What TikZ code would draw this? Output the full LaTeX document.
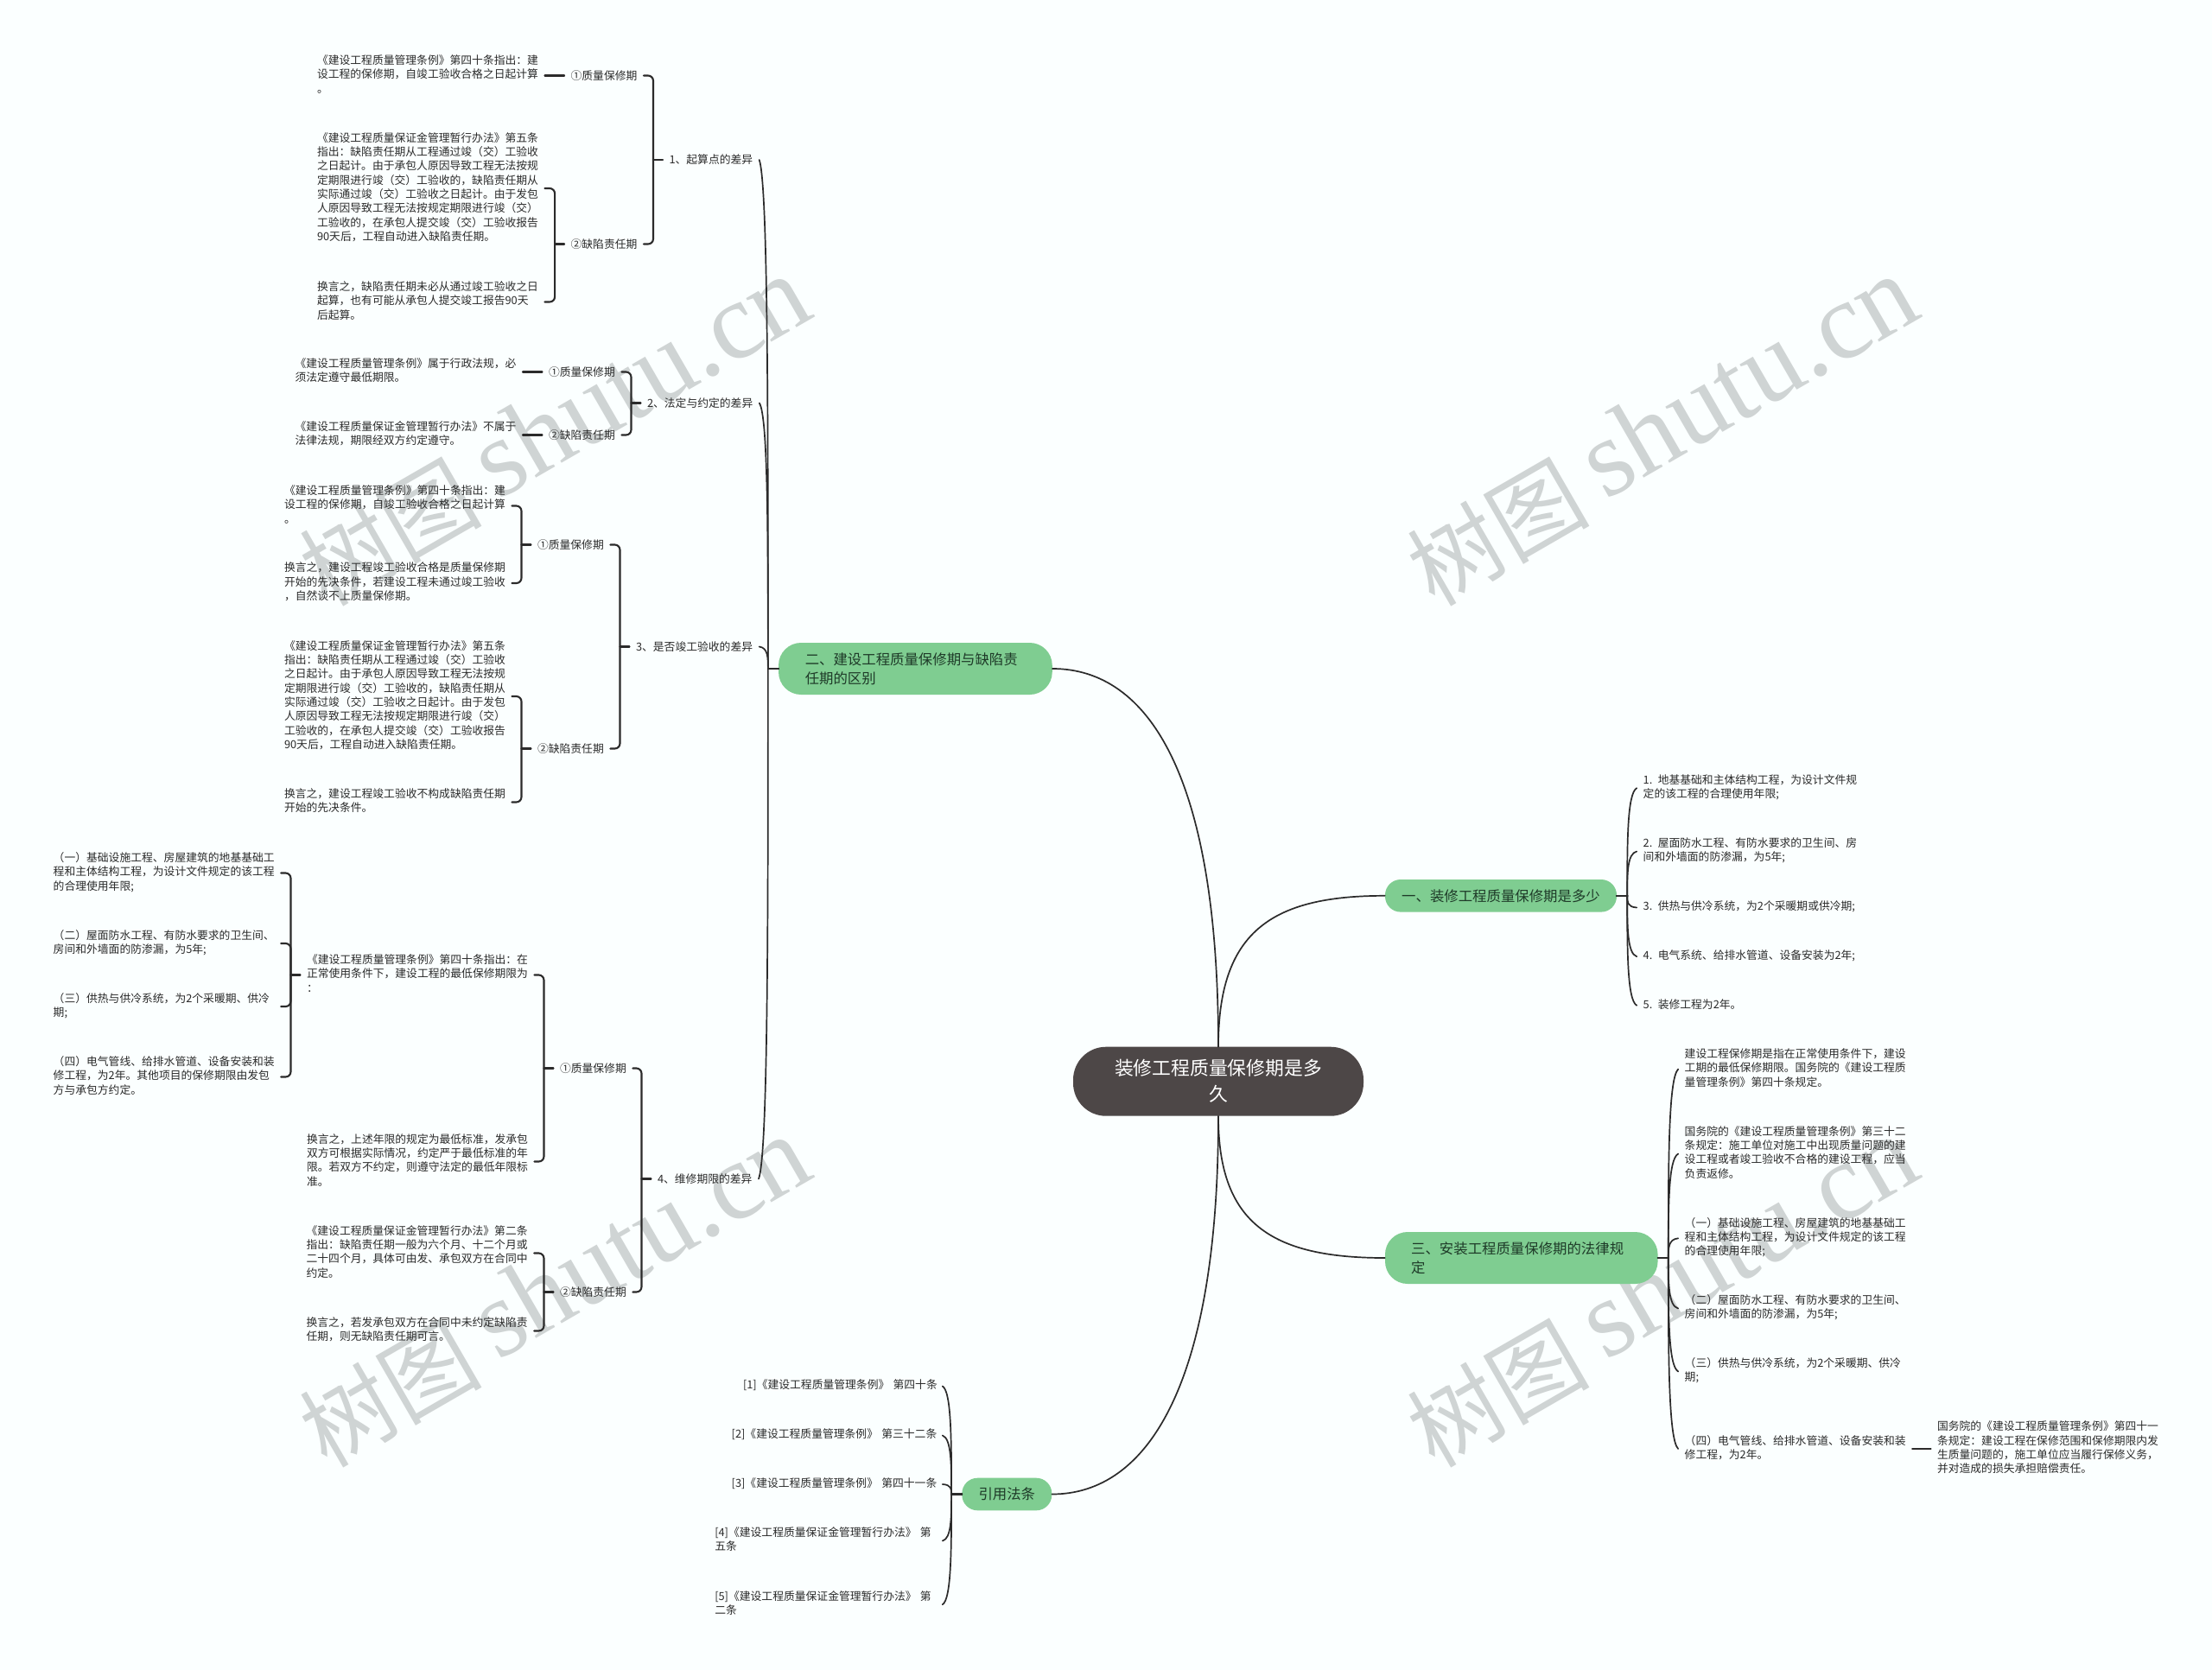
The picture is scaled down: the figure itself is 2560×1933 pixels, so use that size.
\documentclass[tikz,border=0pt]{standalone}
\usepackage{fontspec}
\setmainfont{Noto Sans CJK SC}
\newfontfamily\wmlatin{Liberation Serif}
\usetikzlibrary{calc}
\definecolor{bgc}{HTML}{FBFFFF}
\definecolor{ink}{HTML}{2A2A2A}
\definecolor{wire}{HTML}{2B2B2B}
\definecolor{leaf}{HTML}{7FCD91}
\definecolor{leafink}{HTML}{1E3A28}
\definecolor{rootfill}{HTML}{4D4747}
\definecolor{wm}{HTML}{CFD4D4}
\tikzset{
 wire/.style={draw=wire,line width=1.7pt,line cap=round},
 stub/.style={draw=wire,line width=2.1pt,line cap=round},
 brk/.style={stub,rounded corners=6pt},
 blk/.style={anchor=west,xshift=-7.5pt,inner sep=0pt,outer xsep=7.5pt,outer ysep=0pt,text width=256pt,align=left,text=ink,
   font=\fontsize{12.8}{16.3}\selectfont,execute at begin node=\strut,execute at end node=\strut},
 lab/.style={anchor=west,xshift=-7.5pt,inner sep=0pt,outer xsep=7.5pt,outer ysep=0pt,text=ink,
   font=\fontsize{12.8}{16.3}\selectfont},
 topic/.style={fill=leaf,inner xsep=0pt,inner ysep=0pt,align=left,text=leafink,font=\fontsize{16.4}{21.6}\selectfont},
 wmark/.style={rotate=30,text=wm,inner sep=0pt},
}
\newcommand{\wmtext}{\raisebox{-9pt}{\fontsize{106}{110}\selectfont 树图}\hspace{22pt}{\wmlatin\fontsize{127}{127}\selectfont shutu.cn}}
% bracket from parent to the outer children
\newcommand{\bkt}[3]{%
 \coordinate (bj) at ($(#1.west)+(-11,0)$);
 \draw[brk] (#2.east) -| (bj) |- (#3.east);
 \draw[stub] (#1.west) -- (bj);}
\newcommand{\bktin}[2]{%
 \coordinate (bj) at ($(#1.west)+(-11,0)$);
 \draw[brk] (#2.east) -| (bj);}
% hooked curve from a parent's spine to a child
\newcommand{\hookln}[3]{%
 \path (#1) ++(#2,0) coordinate (sp);
 \draw[stub] (#1) -- (sp);
 \draw[wire] (sp) .. controls ($(sp)!.5!(sp|-#3)$) and ($(sp)!.95!(sp|-#3)$) .. (#3);}
\begin{document}
\begin{tikzpicture}[x=1pt,y=-1pt]
\useasboundingbox (0,0) rectangle (2560,1933);
\fill[bgc] (0,0) rectangle (2560,1933);
% watermarks
\node[wmark] (wm1) at (642,500.4) {\wmtext};
\node[wmark] (wm2) at (1924,500.4) {\wmtext};
\node[wmark] (wm3) at (642,1496.4) {\wmtext};
\node[wmark] (wm4) at (1924,1496.4) {\wmtext};
% central + topics
\node[fill=rootfill,rounded corners=38pt,minimum width=336pt,minimum height=80pt,inner sep=0pt,align=center,text=white,font=\fontsize{21.8}{30}\selectfont] (root) at (1410,1251.7) {装修工程质量保修期是多\\久};
\node[topic,rounded corners=18pt,minimum width=268pt,minimum height=37.6pt,align=center] (one) at (1737,1036.8) {一、装修工程质量保修期是多少};
\node[topic,rounded corners=26pt,minimum width=316.7pt,minimum height=60pt,text width=255.3pt] (two) at (1059.4,774) {二、建设工程质量保修期与缺陷责\\任期的区别};
\node[topic,rounded corners=26pt,minimum width=315.6pt,minimum height=60pt,text width=255.3pt] (three) at (1760.8,1456) {三、安装工程质量保修期的法律规\\定};
\node[topic,rounded corners=18pt,minimum width=104pt,minimum height=37.6pt,align=center] (ref) at (1165.3,1729.5) {引用法条};
\draw[wire] (root.north) .. controls +(0,-132) and +(-133,0) .. (one.west);
\draw[wire] (root.south) .. controls +(0,123) and +(-133,0) .. (three.west);
\draw[wire] (root.north) .. controls +(0,-312) and +(112,0) .. (two.east);
\draw[wire] (root.south) .. controls +(0,308) and +(112,0) .. (ref.east);
% ---- group 1
\node[lab] (l1) at (774.5,185) {1、起算点的差异};
\node[lab] (l1a) at (660.6,87.5) {①质量保修期};
\node[lab] (l1b) at (660.6,282.5) {②缺陷责任期};
\node[blk] (a1) at (367,87.5) {《建设工程质量管理条例》第四十条指出：建\\设工程的保修期，自竣工验收合格之日起计算\\。};
\node[blk] (a2) at (367,218) {《建设工程质量保证金管理暂行办法》第五条\\指出：缺陷责任期从工程通过竣（交）工验收\\之日起计。由于承包人原因导致工程无法按规\\定期限进行竣（交）工验收的，缺陷责任期从\\实际通过竣（交）工验收之日起计。由于发包\\人原因导致工程无法按规定期限进行竣（交）\\工验收的，在承包人提交竣（交）工验收报告\\90天后，工程自动进入缺陷责任期。};
\node[blk] (a3) at (367,349.5) {换言之，缺陷责任期未必从通过竣工验收之日\\起算，也有可能从承包人提交竣工报告90天\\后起算。};
\draw[stub] (a1.east) -- (l1a.west);
\bkt{l1b}{a2}{a3}
\bkt{l1}{l1a}{l1b}
% ---- group 2
\node[lab] (l2) at (749,466.5) {2、法定与约定的差异};
\node[lab] (l2a) at (635,430.5) {①质量保修期};
\node[lab] (l2b) at (635,503.5) {②缺陷责任期};
\node[blk] (b1) at (341.5,430.5) {《建设工程质量管理条例》属于行政法规，必\\须法定遵守最低期限。};
\node[blk] (b2) at (341.5,503.5) {《建设工程质量保证金管理暂行办法》不属于\\法律法规，期限经双方约定遵守。};
\draw[stub] (b1.east) -- (l2a.west);
\draw[stub] (b2.east) -- (l2b.west);
\bkt{l2}{l2a}{l2b}
% ---- group 3
\node[lab] (l3) at (736,748.5) {3、是否竣工验收的差异};
\node[lab] (l3a) at (622,630.5) {①质量保修期};
\node[lab] (l3b) at (622,866.5) {②缺陷责任期};
\node[blk] (c1) at (329,585.5) {《建设工程质量管理条例》第四十条指出：建\\设工程的保修期，自竣工验收合格之日起计算\\。};
\node[blk] (c2) at (329,675) {换言之，建设工程竣工验收合格是质量保修期\\开始的先决条件，若建设工程未通过竣工验收\\，自然谈不上质量保修期。};
\node[blk] (c3) at (329,806) {《建设工程质量保证金管理暂行办法》第五条\\指出：缺陷责任期从工程通过竣（交）工验收\\之日起计。由于承包人原因导致工程无法按规\\定期限进行竣（交）工验收的，缺陷责任期从\\实际通过竣（交）工验收之日起计。由于发包\\人原因导致工程无法按规定期限进行竣（交）\\工验收的，在承包人提交竣（交）工验收报告\\90天后，工程自动进入缺陷责任期。};
\node[blk] (c4) at (329,928.5) {换言之，建设工程竣工验收不构成缺陷责任期\\开始的先决条件。};
\bkt{l3a}{c1}{c2}
\bkt{l3b}{c3}{c4}
\bkt{l3}{l3a}{l3b}
% ---- group 4
\node[lab] (l4) at (761,1364.5) {4、维修期限的差异};
\node[lab] (l4a) at (648,1236.5) {①质量保修期};
\node[lab] (l4b) at (648,1495.5) {②缺陷责任期};
\node[blk] (e1) at (355,1128.5) {《建设工程质量管理条例》第四十条指出：在\\正常使用条件下，建设工程的最低保修期限为\\：};
\node[blk] (e2) at (355,1344.5) {换言之，上述年限的规定为最低标准，发承包\\双方可根据实际情况，约定严于最低标准的年\\限。若双方不约定，则遵守法定的最低年限标\\准。};
\node[blk] (d1) at (61.7,1010.5) {（一）基础设施工程、房屋建筑的地基基础工\\程和主体结构工程，为设计文件规定的该工程\\的合理使用年限;};
\node[blk] (d2) at (61.7,1092) {（二）屋面防水工程、有防水要求的卫生间、\\房间和外墙面的防渗漏，为5年;};
\node[blk] (d3) at (61.7,1165) {（三）供热与供冷系统，为2个采暖期、供冷\\期;};
\node[blk] (d4) at (61.7,1246.5) {（四）电气管线、给排水管道、设备安装和装\\修工程，为2年。其他项目的保修期限由发包\\方与承包方约定。};
\node[blk] (f1) at (354.6,1450.5) {《建设工程质量保证金管理暂行办法》第二条\\指出：缺陷责任期一般为六个月、十二个月或\\二十四个月，具体可由发、承包双方在合同中\\约定。};
\node[blk] (f2) at (354.6,1540.5) {换言之，若发承包双方在合同中未约定缺陷责\\任期，则无缺陷责任期可言。};
\bkt{e1}{d1}{d4}
\bktin{e1}{d2}
\bktin{e1}{d3}
\bkt{l4a}{e1}{e2}
\bkt{l4b}{f1}{f2}
\bkt{l4}{l4a}{l4b}
% spine of topic two
\hookln{two.west}{-12}{l1.east}
\hookln{two.west}{-12}{l2.east}
\hookln{two.west}{-12}{l3.east}
\hookln{two.west}{-12}{l4.east}
% ---- topic one children
\node[blk] (o1) at (1901.7,912.2) {1. 地基基础和主体结构工程，为设计文件规\\定的该工程的合理使用年限;};
\node[blk] (o2) at (1901.7,985.5) {2. 屋面防水工程、有防水要求的卫生间、房\\间和外墙面的防渗漏，为5年;};
\node[blk] (o3) at (1901.7,1050.5) {3. 供热与供冷系统，为2个采暖期或供冷期;};
\node[blk] (o4) at (1901.7,1107.2) {4. 电气系统、给排水管道、设备安装为2年;};
\node[blk] (o5) at (1901.7,1163.8) {5. 装修工程为2年。};
\hookln{one.east}{12}{o1.west}
\hookln{one.east}{12}{o2.west}
\hookln{one.east}{12}{o3.west}
\hookln{one.east}{12}{o4.west}
\hookln{one.east}{12}{o5.west}
% ---- topic three children
\node[blk] (g1) at (1949.7,1237.5) {建设工程保修期是指在正常使用条件下，建设\\工期的最低保修期限。国务院的《建设工程质\\量管理条例》第四十条规定。};
\node[blk] (g2) at (1949.7,1335.5) {国务院的《建设工程质量管理条例》第三十二\\条规定：施工单位对施工中出现质量问题的建\\设工程或者竣工验收不合格的建设工程，应当\\负责返修。};
\node[blk] (g3) at (1949.7,1433.3) {（一）基础设施工程、房屋建筑的地基基础工\\程和主体结构工程，为设计文件规定的该工程\\的合理使用年限;};
\node[blk] (g4) at (1949.7,1514.5) {（二）屋面防水工程、有防水要求的卫生间、\\房间和外墙面的防渗漏，为5年;};
\node[blk] (g5) at (1949.7,1587.5) {（三）供热与供冷系统，为2个采暖期、供冷\\期;};
\node[blk] (g6) at (1949.7,1677) {（四）电气管线、给排水管道、设备安装和装\\修工程，为2年。};
\node[blk] (h1) at (2242,1677) {国务院的《建设工程质量管理条例》第四十一\\条规定：建设工程在保修范围和保修期限内发\\生质量问题的，施工单位应当履行保修义务，\\并对造成的损失承担赔偿责任。};
\draw[stub] (g6.east) -- (h1.west);
\hookln{three.east}{12}{g1.west}
\hookln{three.east}{12}{g2.west}
\hookln{three.east}{12}{g3.west}
\hookln{three.east}{12}{g4.west}
\hookln{three.east}{12}{g5.west}
\hookln{three.east}{12}{g6.west}
% ---- references
\node[blk,text width=223.3pt] (r1) at (860,1604.5) {\mbox{[1]《建设工程质量管理条例》 第四十条}};
\node[blk,text width=236.6pt] (r2) at (846.7,1661.5) {\mbox{[2]《建设工程质量管理条例》 第三十二条}};
\node[blk,text width=236.6pt] (r3) at (846.7,1718) {\mbox{[3]《建设工程质量管理条例》 第四十一条}};
\node[blk] (r4) at (827.3,1783.5) {[4]《建设工程质量保证金管理暂行办法》 第\\五条};
\node[blk] (r5) at (827.3,1857.2) {[5]《建设工程质量保证金管理暂行办法》 第\\二条};
\hookln{ref.west}{-12}{r1.east}
\hookln{ref.west}{-12}{r2.east}
\hookln{ref.west}{-12}{r3.east}
\hookln{ref.west}{-12}{r4.east}
\hookln{ref.west}{-12}{r5.east}
\end{tikzpicture}
\end{document}
